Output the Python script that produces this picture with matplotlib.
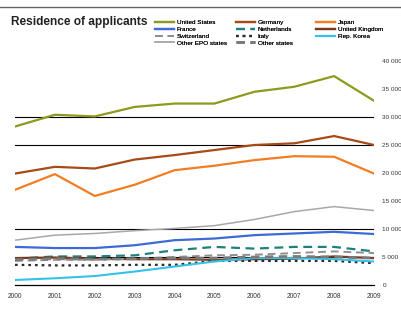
import matplotlib
matplotlib.use("Agg")
import matplotlib.pyplot as plt
from matplotlib.ticker import FuncFormatter

plt.rcParams['font.family'] = ['Liberation Sans', 'DejaVu Sans']

years = [2000, 2001, 2002, 2003, 2004, 2005, 2006, 2007, 2008, 2009]

united_states = [28300, 30400, 30100, 31800, 32400, 32400, 34500, 35400, 37300, 32900]
germany = [19900, 21100, 20800, 22400, 23200, 24100, 25000, 25300, 26600, 25000]
japan = [17000, 19800, 15900, 17900, 20500, 21300, 22300, 23000, 22900, 19900]
france = [6800, 6600, 6600, 7100, 8000, 8300, 8900, 9200, 9500, 9100]
netherlands = [4700, 5100, 5100, 5300, 6200, 6800, 6500, 6800, 6800, 6000]
united_kingdom = [4800, 4900, 4700, 4600, 4600, 4500, 4600, 4700, 5100, 4800]
switzerland = [4300, 4500, 4500, 4700, 5000, 5300, 5400, 5700, 6000, 5700]
italy = [3600, 3500, 3500, 3600, 3600, 4300, 4300, 4300, 4300, 3900]
rep_korea = [900, 1200, 1600, 2400, 3300, 4200, 4800, 4800, 4600, 4200]
other_epo = [8000, 8900, 9200, 9700, 10100, 10600, 11700, 13100, 14000, 13300]
other_states = [4500, 4700, 4600, 4700, 4800, 4800, 5000, 5100, 5000, 4800]

series_names = ["United States", "Germany", "Japan", "France", "Netherlands",
                "United Kingdom", "Switzerland", "Italy", "Rep. Korea",
                "Other EPO states", "Other states"]
gridline_values = [5000, 10000, 25000, 30000]
x_tick_labels = ["2000", "2001", "2002", "2003", "2004", "2005", "2006", "2007", "2008", "2009"]

W, H = 402, 309
fig = plt.figure(figsize=(W / 100, H / 100), dpi=100)
ax = fig.add_axes([15 / W, (H - 285) / H, (374 - 15) / W, (285 - 61) / H])

for g in gridline_values:
    ax.axhline(g, color="black", lw=0.8, zorder=1)

styles = {
    "United States": dict(color="#8c9a1e", lw=1.6, ls="-"),
    "Germany": dict(color="#a84a18", lw=1.6, ls="-"),
    "Japan": dict(color="#f27d22", lw=1.6, ls="-"),
    "France": dict(color="#3e6ad6", lw=1.6, ls="-"),
    "Netherlands": dict(color="#1f8080", lw=1.6, ls=(0, (4, 2.5))),
    "United Kingdom": dict(color="#7b3a1e", lw=1.6, ls="-"),
    "Switzerland": dict(color="#8f8f8f", lw=1.4, ls=(0, (4, 2.5))),
    "Italy": dict(color="#2a2a2a", lw=1.6, ls=(0, (1.2, 1.8))),
    "Rep. Korea": dict(color="#33c2e8", lw=1.5, ls="-"),
    "Other EPO states": dict(color="#a8a8a8", lw=1.1, ls="-"),
    "Other states": dict(color="#7a7a7a", lw=2.0, ls=(0, (3, 2))),
}
data = {
    "United States": united_states, "Germany": germany, "Japan": japan,
    "France": france, "Netherlands": netherlands, "United Kingdom": united_kingdom,
    "Switzerland": switzerland, "Italy": italy, "Rep. Korea": rep_korea,
    "Other EPO states": other_epo, "Other states": other_states,
}
handles = {}
for name in series_names:
    (h,) = ax.plot(years, data[name], zorder=3, **styles[name])
    handles[name] = h

ax.set_xlim(years[0], years[-1])
ax.set_ylim(0, 40000)
ax.set_xticks(years)
ax.set_xticklabels(x_tick_labels)
ax.set_yticks(range(0, 40001, 5000))
ax.yaxis.set_major_formatter(FuncFormatter(lambda v, p: f"{int(v):,}".replace(",", " ")))
ax.yaxis.tick_right()
ax.tick_params(axis="x", length=0, labelsize=4.8, colors="#333333", pad=6)
ax.tick_params(axis="y", length=0, labelsize=4.6, colors="#333333", pad=6)
for s in ["top", "left", "right"]:
    ax.spines[s].set_visible(False)
ax.spines["bottom"].set_color("black")
ax.spines["bottom"].set_linewidth(0.9)

fig.text(11 / W, 1 - 22 / H, "Residence of applicants", fontsize=8.6, fontweight="bold",
         va="center", ha="left", color="#222222")

columns = [
    (155, ["United States", "France", "Switzerland", "Other EPO states"]),
    (236, ["Germany", "Netherlands", "Italy", "Other states"]),
    (316, ["Japan", "United Kingdom", "Rep. Korea"]),
]
for xpix, names in columns:
    leg = fig.legend([handles[n] for n in names], names, loc="upper left",
                     bbox_to_anchor=(xpix / W, 1 - 20 / H), frameon=False, fontsize=4.6,
                     handlelength=2.9, handletextpad=0.5, labelspacing=0.2,
                     borderpad=0, borderaxespad=0)
    fig.add_artist(leg)

fig.add_artist(plt.Line2D([0, 1], [1 - 7 / H, 1 - 7 / H], transform=fig.transFigure,
                          color="#666666", lw=1.0))

fig.savefig("out.png", dpi=100)
